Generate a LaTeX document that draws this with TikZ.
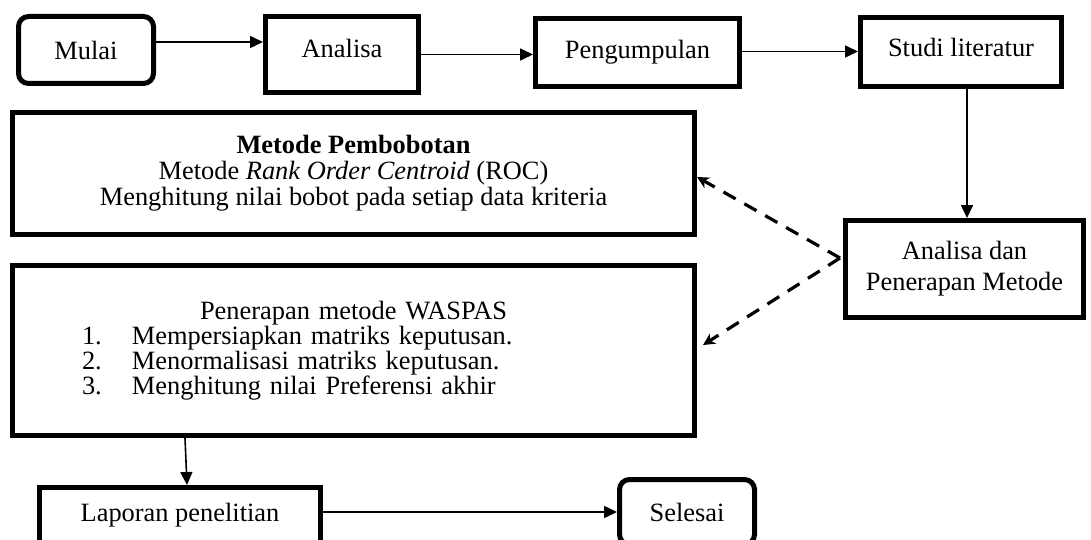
\documentclass[tikz,border=0pt]{standalone}
\usepackage{fontspec}
\setmainfont{Liberation Serif}
\usetikzlibrary{positioning,arrows.meta,calc}

\begin{document}
\begin{tikzpicture}[x=0.5pt, y=-0.5pt,
    font=\fontsize{13.2}{12.5}\selectfont,
    box/.style={draw, line width=2.5pt, inner sep=0pt, align=center},
    startstop/.style={box, rounded corners=5pt},
    flowarrow/.style={-{Triangle[length=6.5pt,width=6pt]}, line width=0.8pt},
    dasharrow/.style={-{Stealth[length=6pt,width=6pt]}, line width=1.6pt, dash pattern=on 7pt off 5pt}]
    \useasboundingbox (0,0) rectangle (1091,540);

    % Top row
    \node[startstop, minimum width=67.5pt, minimum height=33.5pt] (mulai) at (86,50) {Mulai};
    \node[box, minimum width=76.5pt, minimum height=38pt, text depth=6pt] (analisa) at (342,54.5) {Analisa};
    \node[box, minimum width=102pt, minimum height=34pt, text depth=3.5pt] (kumpul) at (637.5,52.5) {Pengumpulan};
    \node[box, minimum width=100.5pt, minimum height=34.5pt, text depth=4.5pt] (studi) at (961,52) {Studi literatur};

    % Metode
    \node[box, minimum width=341pt, minimum height=61pt, font=\fontsize{13.2}{13}\selectfont] (bobot) at (353.5,173.5)
        {\textbf{Metode Pembobotan}\\ Metode \textit{Rank Order Centroid} (ROC)\\ Menghitung nilai bobot pada setiap data kriteria};
    \node[box, minimum width=119pt, minimum height=48.5pt, font=\fontsize{13.2}{15.5}\selectfont] (terap) at (964.5,269)
        {Analisa dan\\ Penerapan Metode};
    \node[box, minimum width=341pt, minimum height=85pt, text width=330pt, align=left] (waspas) at (353.5,350.5)
        {\makebox[\linewidth]{Penerapan metode WASPAS}\\
         \hspace*{29.25pt}\makebox[25pt][l]{1.}Mempersiapkan matriks keputusan.\\
         \hspace*{29.25pt}\makebox[25pt][l]{2.}Menormalisasi matriks keputusan.\\
         \hspace*{29.25pt}\makebox[25pt][l]{3.}Menghitung nilai Preferensi akhir};

    % Bottom row
    \node[box, minimum width=140.5pt, minimum height=27.5pt] (laporan) at (180,515) {Laporan penelitian};
    \node[startstop, minimum width=67.5pt, minimum height=32.5pt] (selesai) at (687,512) {Selesai};

    \draw[flowarrow] ([yshift=4pt]mulai.east) -- ([yshift=4pt]mulai.east -| analisa.west);
    \draw[flowarrow] (analisa.east) -- (analisa.east -| kumpul.west);
    \draw[flowarrow] ([yshift=0.5pt]kumpul.east) -- ([yshift=0.5pt]kumpul.east -| studi.west);
    \draw[flowarrow] ([xshift=3pt]studi.south) -- ([xshift=3pt]studi.south |- terap.north);

    % dashed links
    \coordinate (pisah) at ([xshift=-1.5pt,yshift=5.5pt]terap.west);
    \draw[dasharrow] (pisah) -- ([yshift=-1.75pt]bobot.east);
    \draw[dasharrow] (pisah) -- ([xshift=3pt,yshift=2.75pt]waspas.east);

    \draw[flowarrow] ([xshift=87.5pt]waspas.south west) -- ([xshift=75pt]laporan.north west);
    \draw[flowarrow] ([yshift=1.5pt]laporan.east) -- ([yshift=1.5pt]laporan.east -| selesai.west);
\end{tikzpicture}
\end{document}
